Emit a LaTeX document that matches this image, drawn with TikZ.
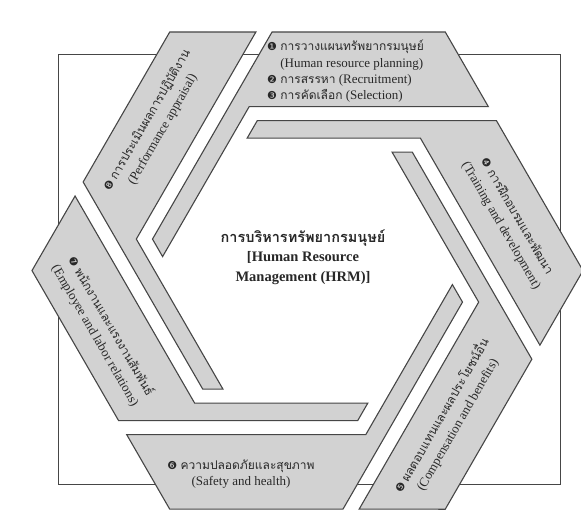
\documentclass[tikz,border=0pt]{standalone}
\usepackage{fontspec}
\setmainfont{Liberation Serif}
\newfontfamily\thx[Script=Thai]{Loma}
\newfontfamily\dng{DejaVu Sans}
\definecolor{pfill}{RGB}{210,210,210}
\definecolor{pline}{RGB}{70,70,70}
\definecolor{ink}{RGB}{40,40,40}
\newcommand\cn[1]{{\dng\fontsize{11}{11}\selectfont #1}}
\newcommand\tht[1]{{\thx\fontsize{12}{17}\selectfont #1}}
\begin{document}
\begin{tikzpicture}[x=1pt,y=1pt,
  piece/.style={fill=pfill, draw=pline, line width=1.1pt, line join=miter},
  frame/.style={draw=pline, line width=1pt},
  lbl/.style={font=\fontsize{13}{16}\selectfont, text=ink, inner sep=0pt, align=center},
  rlbl/.style={font=\fontsize{13}{18}\selectfont, text=ink, inner sep=0pt, align=center},
  toplbl/.style={font=\fontsize{13}{16.3}\selectfont, text=ink, inner sep=0pt, align=left},
  ctr/.style={font=\fontsize{14.5}{19.5}\selectfont\bfseries, text=ink, inner sep=0pt, align=center}]
\useasboundingbox (0,0) rectangle (581,527);
\fill[white] (0,0) rectangle (581,527);
\draw[frame] (58,42) rectangle (560,472);
\coordinate (O) at (307.5,256.4);
\foreach \k in {0,...,5}{
  \begin{scope}[shift={(O)}, rotate=-60*\k]
    \draw[piece] (-35.45,238.6) -- (137.76,238.6) -- (180.8,164) -- (-58.3,164)
      -- (-144.9,14) -- (-155.0,31.5) -- cycle;
  \end{scope}
}
\node[ctr] (hrm) at (303,270) {{\thx\bfseries การบริหารทรัพยากรมนุษย์}\\{[}Human Resource\\Management (HRM)]};
\node[toplbl, anchor=west] (plan) at (267,455.5)
  {\cn{❶}\ \tht{การวางแผนทรัพยากรมนุษย์}\\
   \phantom{\cn{❶}\ }(Human resource planning)\\
   \cn{❷}\ \tht{การสรรหา} (Recruitment)\\
   \cn{❸}\ \tht{การคัดเลือก} (Selection)};
\node[rlbl, rotate=-60] (train) at (509,306)
  {\cn{❹}\ \tht{การฝึกอบรมและพัฒนา}\\(Training and development)};
\node[rlbl, rotate=60] (comp) at (449,107)
  {\cn{❺}\ \tht{ผลตอบแทนและผลประโยชน์อื่น}\\(Compensation and benefits)};
\node[lbl] (safe) at (241,53)
  {\cn{❻}\ \tht{ความปลอดภัยและสุขภาพ}\\(Safety and health)};
\node[rlbl, rotate=-60] (emp) at (103,196)
  {\cn{❼}\ \tht{พนักงานและแรงงานสัมพันธ์}\\(Employee and labor relations)};
\node[rlbl, rotate=60] (perf) at (155,402)
  {\cn{❽}\ \tht{การประเมินผลการปฏิบัติงาน}\\(Performance appraisal)};
\end{tikzpicture}
\end{document}
